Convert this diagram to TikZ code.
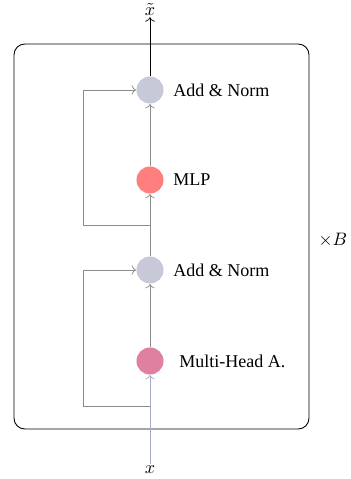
\documentclass[tikz,border=0pt]{standalone}
\usepackage{fontspec}
\setmainfont{Liberation Serif}
\usetikzlibrary{arrows.meta}
\definecolor{normc}{RGB}{200,201,216}
\definecolor{mlpc}{RGB}{255,127,127}
\definecolor{attc}{RGB}{224,128,160}
\definecolor{inc}{RGB}{166,172,202}
\definecolor{resc}{RGB}{140,140,140}
\tikzset{
  blob/.style={circle,minimum size=15pt,inner sep=0pt},
  lbl/.style={anchor=west,inner sep=0pt},
  flow/.style={draw=resc,->},
}
\begin{document}
\begin{tikzpicture}[x=0.555pt,y=-0.555pt]
\useasboundingbox (0,0) rectangle (351,479);
\draw[rounded corners=6pt,line width=0.5pt] (14,44) rectangle (309,429);
\node[blob,fill=normc] (n2) at (150,90) {};
\node[blob,fill=mlpc] (mlp) at (150,180) {};
\node[blob,fill=normc] (n1) at (150,270) {};
\node[blob,fill=attc] (att) at (150,361) {};
\node[lbl] (n2l) at (173,90) {Add \& Norm};
\node[lbl] (mlpl) at (173,180) {MLP};
\node[lbl] (n1l) at (173,270) {Add \& Norm};
\node[lbl] (attl) at (179,361) {Multi-Head A.};
\node[inner sep=1pt] (xt) at (150,9) {$\tilde{x}$};
\node[inner sep=1pt] (x) at (150,470) {$x$};
\node (B) at (333,240) {$\times B$};
\coordinate (b1) at (150,406);
\coordinate (b2) at (150,225);
\draw[->] (n2) -- (xt);
\draw[draw=inc,->] (x) -- (att);
\draw[flow] (att) -- (n1);
\draw[flow] (n1) -- (mlp);
\draw[flow] (mlp) -- (n2);
\draw[flow] (b1) -- (83,406) -- (83,270) -- (n1);
\draw[flow] (b2) -- (83,225) -- (83,90) -- (n2);
\end{tikzpicture}
\end{document}
